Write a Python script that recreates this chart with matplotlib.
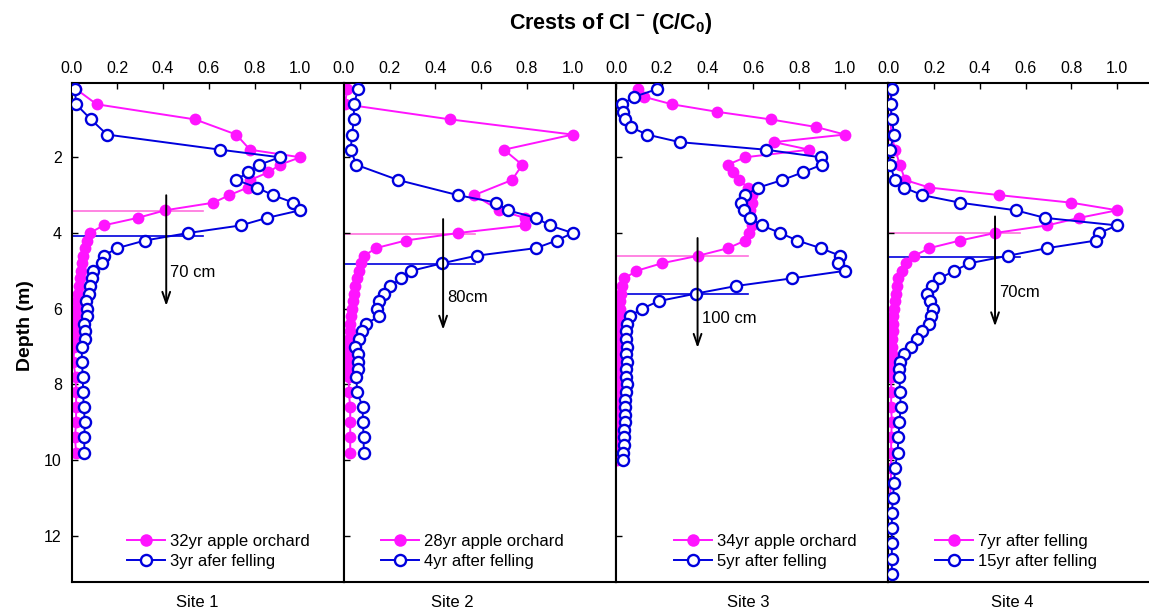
import numpy as np
import matplotlib
matplotlib.use("Agg")
import matplotlib.pyplot as plt
from matplotlib.lines import Line2D

plt.rcParams['font.family'] = ['Liberation Sans', 'DejaVu Sans']
plt.rcParams['mathtext.fontset'] = 'custom'
plt.rcParams['mathtext.rm'] = 'Liberation Sans'
plt.rcParams['mathtext.bf'] = 'Liberation Sans:bold'

# ---- data (depth in m, C/C0) ----
s1_orch_d = [0.2, 0.6, 1.0, 1.4, 1.8, 2.0, 2.2, 2.4, 2.6, 2.8, 3.0, 3.2, 3.4, 3.6, 3.8, 4.0, 4.2, 4.4, 4.6,
             4.8, 5.0, 5.2, 5.4, 5.6, 5.8, 6.0, 6.2, 6.4, 6.6, 6.8, 7.0, 7.4, 7.8, 8.2, 8.6, 9.0, 9.4, 9.8]
s1_orch_c = [0.02, 0.11, 0.54, 0.72, 0.78, 1.0, 0.91, 0.86, 0.78, 0.77, 0.69, 0.62, 0.41, 0.29, 0.14, 0.08,
             0.066, 0.058, 0.05, 0.047, 0.043, 0.037, 0.034, 0.03, 0.026, 0.022, 0.02, 0.017, 0.015, 0.015,
             0.013, 0.008, 0.018, 0.02, 0.02, 0.02, 0.015, 0.02]
s1_fell_d = s1_orch_d
s1_fell_c = [0.015, 0.02, 0.085, 0.155, 0.65, 0.91, 0.82, 0.77, 0.72, 0.81, 0.88, 0.97, 1.0, 0.855, 0.74, 0.51,
             0.32, 0.20, 0.14, 0.135, 0.095, 0.09, 0.08, 0.077, 0.063, 0.069, 0.069, 0.056, 0.06, 0.06, 0.045,
             0.045, 0.05, 0.05, 0.054, 0.058, 0.056, 0.056]

s2_orch_d = [0.2, 0.6, 1.0, 1.4, 1.8, 2.2, 2.6, 3.0, 3.4, 3.6, 3.8, 4.0, 4.2, 4.4, 4.6, 4.8, 5.0, 5.2, 5.4,
             5.6, 5.8, 6.0, 6.2, 6.4, 6.6, 6.8, 7.0, 7.2, 7.4, 7.6, 7.8, 8.2, 8.6, 9.0, 9.4, 9.8]
s2_orch_c = [0.015, 0.005, 0.466, 1.0, 0.70, 0.78, 0.735, 0.57, 0.68, 0.79, 0.79, 0.50, 0.27, 0.14, 0.09,
             0.073, 0.065, 0.058, 0.05, 0.045, 0.04, 0.035, 0.03, 0.028, 0.025, 0.022, 0.02, 0.02, 0.02,
             0.02, 0.022, 0.022, 0.028, 0.028, 0.028, 0.028]
s2_fell_d = [0.2, 0.6, 1.0, 1.4, 1.8, 2.2, 2.6, 3.0, 3.2, 3.4, 3.6, 3.8, 4.0, 4.2, 4.4, 4.6, 4.8, 5.0, 5.2,
             5.4, 5.6, 5.8, 6.0, 6.2, 6.4, 6.6, 6.8, 7.0, 7.2, 7.4, 7.6, 7.8, 8.2, 8.6, 9.0, 9.4, 9.8]
s2_fell_c = [0.063, 0.044, 0.044, 0.036, 0.03, 0.055, 0.237, 0.498, 0.667, 0.716, 0.84, 0.90, 1.0, 0.93,
             0.84, 0.58, 0.43, 0.295, 0.25, 0.204, 0.175, 0.153, 0.146, 0.156, 0.095, 0.08, 0.065, 0.05,
             0.06, 0.062, 0.06, 0.055, 0.058, 0.083, 0.083, 0.087, 0.087]

s3_orch_d = [0.2, 0.4, 0.6, 0.8, 1.0, 1.2, 1.4, 1.6, 1.8, 2.0, 2.2, 2.4, 2.6, 2.8, 3.0, 3.2, 3.4, 3.6, 3.8,
             4.0, 4.2, 4.4, 4.6, 4.8, 5.0, 5.2, 5.4, 5.6, 5.8, 6.0, 6.2, 6.4, 6.6, 6.8, 7.0, 7.2, 7.4, 7.6,
             7.8, 8.0, 8.2, 8.4, 8.6, 8.8, 9.0, 9.2, 9.4, 9.6, 9.8, 10.0]
s3_orch_c = [0.094, 0.12, 0.244, 0.443, 0.676, 0.874, 1.0, 0.69, 0.844, 0.564, 0.487, 0.51, 0.535, 0.578,
             0.593, 0.593, 0.585, 0.59, 0.593, 0.58, 0.564, 0.49, 0.36, 0.2, 0.089, 0.036, 0.025, 0.02,
             0.018, 0.016, 0.015, 0.014, 0.013, 0.012, 0.012, 0.011, 0.011, 0.01, 0.01, 0.01, 0.009, 0.009,
             0.008, 0.008, 0.008, 0.007, 0.007, 0.006, 0.006, 0.006]
s3_fell_d = s3_orch_d
s3_fell_c = [0.179, 0.08, 0.026, 0.03, 0.04, 0.063, 0.135, 0.278, 0.654, 0.894, 0.898, 0.815, 0.727, 0.622,
             0.564, 0.547, 0.557, 0.583, 0.637, 0.717, 0.792, 0.894, 0.978, 0.971, 1.0, 0.767, 0.525, 0.35,
             0.186, 0.113, 0.06, 0.048, 0.045, 0.045, 0.048, 0.045, 0.048, 0.045, 0.045, 0.048, 0.045,
             0.04, 0.04, 0.04, 0.04, 0.036, 0.036, 0.033, 0.03, 0.03]

s4_orch_d = [0.2, 0.6, 1.0, 1.4, 1.8, 2.2, 2.6, 2.8, 3.0, 3.2, 3.4, 3.6, 3.8, 4.0, 4.2, 4.4, 4.6, 4.8, 5.0,
             5.2, 5.4, 5.6, 5.8, 6.0, 6.2, 6.4, 6.6, 6.8, 7.0, 7.2, 7.4, 7.6, 7.8, 8.2, 8.6, 9.0, 9.4, 9.8,
             10.2, 10.6, 11.0]
s4_orch_c = [0.008, 0.012, 0.01, 0.012, 0.03, 0.05, 0.073, 0.179, 0.485, 0.80, 1.0, 0.834, 0.694, 0.466,
             0.313, 0.179, 0.114, 0.077, 0.058, 0.044, 0.036, 0.032, 0.028, 0.025, 0.022, 0.02, 0.018, 0.016,
             0.015, 0.014, 0.013, 0.012, 0.012, 0.012, 0.012, 0.015, 0.012, 0.012, 0.012, 0.01, 0.008]
s4_fell_d = [0.2, 0.6, 1.0, 1.4, 1.8, 2.2, 2.6, 2.8, 3.0, 3.2, 3.4, 3.6, 3.8, 4.0, 4.2, 4.4, 4.6, 4.8, 5.0,
             5.2, 5.4, 5.6, 5.8, 6.0, 6.2, 6.4, 6.6, 6.8, 7.0, 7.2, 7.4, 7.6, 7.8, 8.2, 8.6, 9.0, 9.4, 9.8,
             10.2, 10.6, 11.0, 11.4, 11.8, 12.2, 12.6, 13.0]
s4_fell_c = [0.015, 0.01, 0.015, 0.025, 0.007, 0.007, 0.029, 0.068, 0.148, 0.313, 0.556, 0.684, 1.0, 0.921,
             0.907, 0.694, 0.524, 0.354, 0.288, 0.223, 0.189, 0.167, 0.182, 0.194, 0.185, 0.179, 0.146,
             0.124, 0.098, 0.068, 0.051, 0.048, 0.048, 0.051, 0.054, 0.048, 0.044, 0.04, 0.029, 0.025,
             0.02, 0.015, 0.015, 0.015, 0.015, 0.015]

sites = ['Site 1', 'Site 2', 'Site 3', 'Site 4']
orch_labels = ['32yr apple orchard', '28yr apple orchard', '34yr apple orchard', '7yr after felling']
fell_labels = ['3yr afer felling', '4yr after felling', '5yr after felling', '15yr after felling']
orch_d = [s1_orch_d, s2_orch_d, s3_orch_d, s4_orch_d]
orch_c = [s1_orch_c, s2_orch_c, s3_orch_c, s4_orch_c]
fell_d = [s1_fell_d, s2_fell_d, s3_fell_d, s4_fell_d]
fell_c = [s1_fell_c, s2_fell_c, s3_fell_c, s4_fell_c]

# crest depth markers and shift arrows
orch_crest = [3.43, 4.03, 4.61, 4.0]
fell_crest = [4.09, 4.83, 5.6, 4.64]
arrow_x = [0.414, 0.434, 0.356, 0.466]
arrow_top = [2.93, 3.56, 4.06, 3.49]
arrow_bot = [6.0, 6.63, 7.11, 6.54]
shift_text = ['70 cm', '80cm', '100 cm', '70cm']
shift_text_d = [5.05, 5.71, 6.26, 5.56]

MAG = '#ff14ff'
BLU = '#0000dd'

fig = plt.figure(figsize=(11.49, 6.12), dpi=100)
W, H = 1149.0, 612.0
left0 = 71.5 / W
pw = 272.3 / W
bottom = (H - 582) / H
height = (582 - 82.7) / H

leg_x = [0.204, 0.135, 0.212, 0.171]
site_x = [0.463, 0.40, 0.485, 0.456]

for i in range(4):
    ax = fig.add_axes([left0 + i * pw, bottom, pw, height])
    ax.plot([0, 0.575], [orch_crest[i]] * 2, color='#ff70dd', lw=1.2, zorder=1)
    ax.plot([0, 0.575], [fell_crest[i]] * 2, color=BLU, lw=1.2, zorder=1)
    ax.plot(orch_c[i], orch_d[i], '-o', color=MAG, ms=8.5, mew=0, lw=1.4, zorder=2)
    ax.plot(fell_c[i], fell_d[i], '-o', color=BLU, mfc='white', mec=BLU, ms=8, mew=1.7, lw=1.4, zorder=3)
    ax.annotate('', xy=(arrow_x[i], arrow_bot[i]), xytext=(arrow_x[i], arrow_top[i]),
                arrowprops=dict(arrowstyle='->,head_length=0.8,head_width=0.28', color='black', lw=1.4),
                zorder=4)
    ax.text(arrow_x[i] + 0.018, shift_text_d[i], shift_text[i], fontsize=12, va='center', ha='left')

    ax.set_xlim(0, 1.19)
    ax.set_ylim(13.22, 0.03)
    ax.set_xticks([0.0, 0.2, 0.4, 0.6, 0.8, 1.0])
    ax.set_xticklabels(['0.0', '0.2', '0.4', '0.6', '0.8', '1.0'])
    ax.set_yticks([2, 4, 6, 8, 10, 12])
    ax.tick_params(axis='x', direction='in', top=True, bottom=False, labeltop=True, labelbottom=False,
                   length=4, width=1, pad=5, labelsize=11.5)
    ax.tick_params(axis='y', direction='in', left=True, right=False, length=4, width=1, pad=7,
                   labelsize=11.5, labelleft=(i == 0))
    for sp in ax.spines.values():
        sp.set_linewidth(1.5)

    handles = [Line2D([], [], color=MAG, marker='o', ms=9, mew=0, lw=1.4),
               Line2D([], [], color=BLU, marker='o', mfc='white', mec=BLU, ms=8, mew=1.7, lw=1.4)]
    ax.legend(handles, [orch_labels[i], fell_labels[i]], loc='lower left', bbox_to_anchor=(leg_x[i], 0.026),
              frameon=False, fontsize=12, handlelength=2.3, handletextpad=0.3, labelspacing=0.3,
              borderpad=0, borderaxespad=0)
    ax.text(site_x[i], -0.042, sites[i], transform=ax.transAxes, ha='center', va='center', fontsize=12)

fig.text(611 / W, 1 - 24 / H, r'Crests of Cl $^{\mathbf{-}}$ (C/C$_{\mathbf{0}}$)', ha='center', va='center',
         fontsize=15.5, fontweight='bold')
fig.text(25 / W, 1 - 326 / H, 'Depth (m)', rotation=90, ha='center', va='center', fontsize=14,
         fontweight='bold')

fig.savefig('out.png', dpi=100)
